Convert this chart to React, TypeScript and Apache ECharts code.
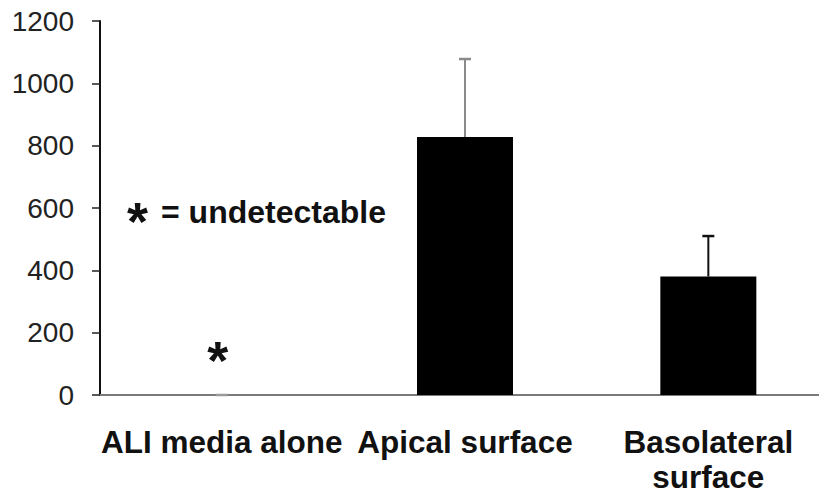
import React, { useEffect, useRef } from "react";
import * as echarts from "echarts";

const categories = ["ALI media alone", "Apical surface", "Basolateral\nsurface"];
const values = [0, 828, 380];
const errorUp = [0, 250, 130];
const yTicks = [0, 200, 400, 600, 800, 1000, 1200];
const errColors = ["#9a9a9a", "#8a8a8a", "#111111"];
const noteText = "= undetectable";
const starMarkIndex = 0;

export default function App() {
  const ref = useRef<HTMLDivElement>(null);
  useEffect(() => {
    if (!ref.current) return;
    const chart = echarts.init(ref.current, null, { renderer: "svg" });
    const errData = values.map((v, i) => [i, v, v + errorUp[i]]);
    const option: any = {
      animation: false,
      backgroundColor: "#ffffff",
      grid: { left: 100, top: 21, width: 730, height: 374, outerBoundsMode: "none", containLabel: false },
      xAxis: {
        type: "category",
        data: categories,
        axisLine: { lineStyle: { color: "#7a7a7a", width: 2 } },
        axisTick: { show: false },
        axisLabel: {
          fontFamily: "Liberation Sans, Arial, sans-serif",
          fontWeight: "bold",
          fontSize: 31.5,
          lineHeight: 35,
          color: "#111",
          margin: 29,
          interval: 0,
        },
      },
      yAxis: {
        type: "value",
        min: yTicks[0],
        max: yTicks[yTicks.length - 1],
        interval: yTicks[1] - yTicks[0],
        splitLine: { show: false },
        axisLine: { show: true, lineStyle: { color: "#111", width: 2 } },
        axisTick: { show: true, length: 8, lineStyle: { color: "#222", width: 1.5 } },
        axisLabel: {
          fontFamily: "Liberation Sans, Arial, sans-serif",
          fontSize: 28,
          color: "#222",
          margin: 26,
          formatter: (v: number) => String(v),
        },
      },
      series: [
        {
          type: "bar",
          data: values,
          barWidth: 96,
          itemStyle: { color: "#000" },
          z: 2,
        },
        {
          type: "custom",
          data: errData,
          z: 3,
          renderItem: (params: any, api: any) => {
            const i = api.value(0);
            const lo = api.coord([i, api.value(1)]);
            const hi = api.coord([i, api.value(2)]);
            const color = errColors[params.dataIndex];
            const half = 6;
            return {
              type: "group",
              children: [
                {
                  type: "line",
                  shape: { x1: lo[0], y1: lo[1], x2: hi[0], y2: hi[1] },
                  style: { stroke: color, lineWidth: 2 },
                },
                {
                  type: "line",
                  shape: { x1: hi[0] - half, y1: hi[1], x2: hi[0] + half, y2: hi[1] },
                  style: { stroke: color, lineWidth: 2.5 },
                },
              ],
            };
          },
        },
      ],
    };
    chart.setOption(option);
    const starPos = chart.convertToPixel({ gridIndex: 0 }, [starMarkIndex, 0]);
    chart.setOption({
      graphic: [
        {
          type: "text",
          x: 137.5,
          y: 221,
          style: {
            text: "*",
            fontFamily: "Liberation Sans, Arial, sans-serif",
            fontWeight: "bold",
            fontSize: 54,
            fill: "#111",
            align: "center",
            verticalAlign: "middle",
          },
        },
        {
          type: "text",
          x: 161,
          y: 211.5,
          style: {
            text: noteText,
            fontFamily: "Liberation Sans, Arial, sans-serif",
            fontWeight: "bold",
            fontSize: 32,
            fill: "#111",
            align: "left",
            verticalAlign: "middle",
          },
        },
        {
          type: "text",
          x: starPos[0] - 4,
          y: 360,
          style: {
            text: "*",
            fontFamily: "Liberation Sans, Arial, sans-serif",
            fontWeight: "bold",
            fontSize: 54,
            fill: "#111",
            align: "center",
            verticalAlign: "middle",
          },
        },
      ],
    });
    return () => chart.dispose();
  }, []);
  return (
    <div
      ref={ref}
      style={{ position: "fixed", left: 0, top: 0, width: 819, height: 494, background: "#fff" }}
    />
  );
}
